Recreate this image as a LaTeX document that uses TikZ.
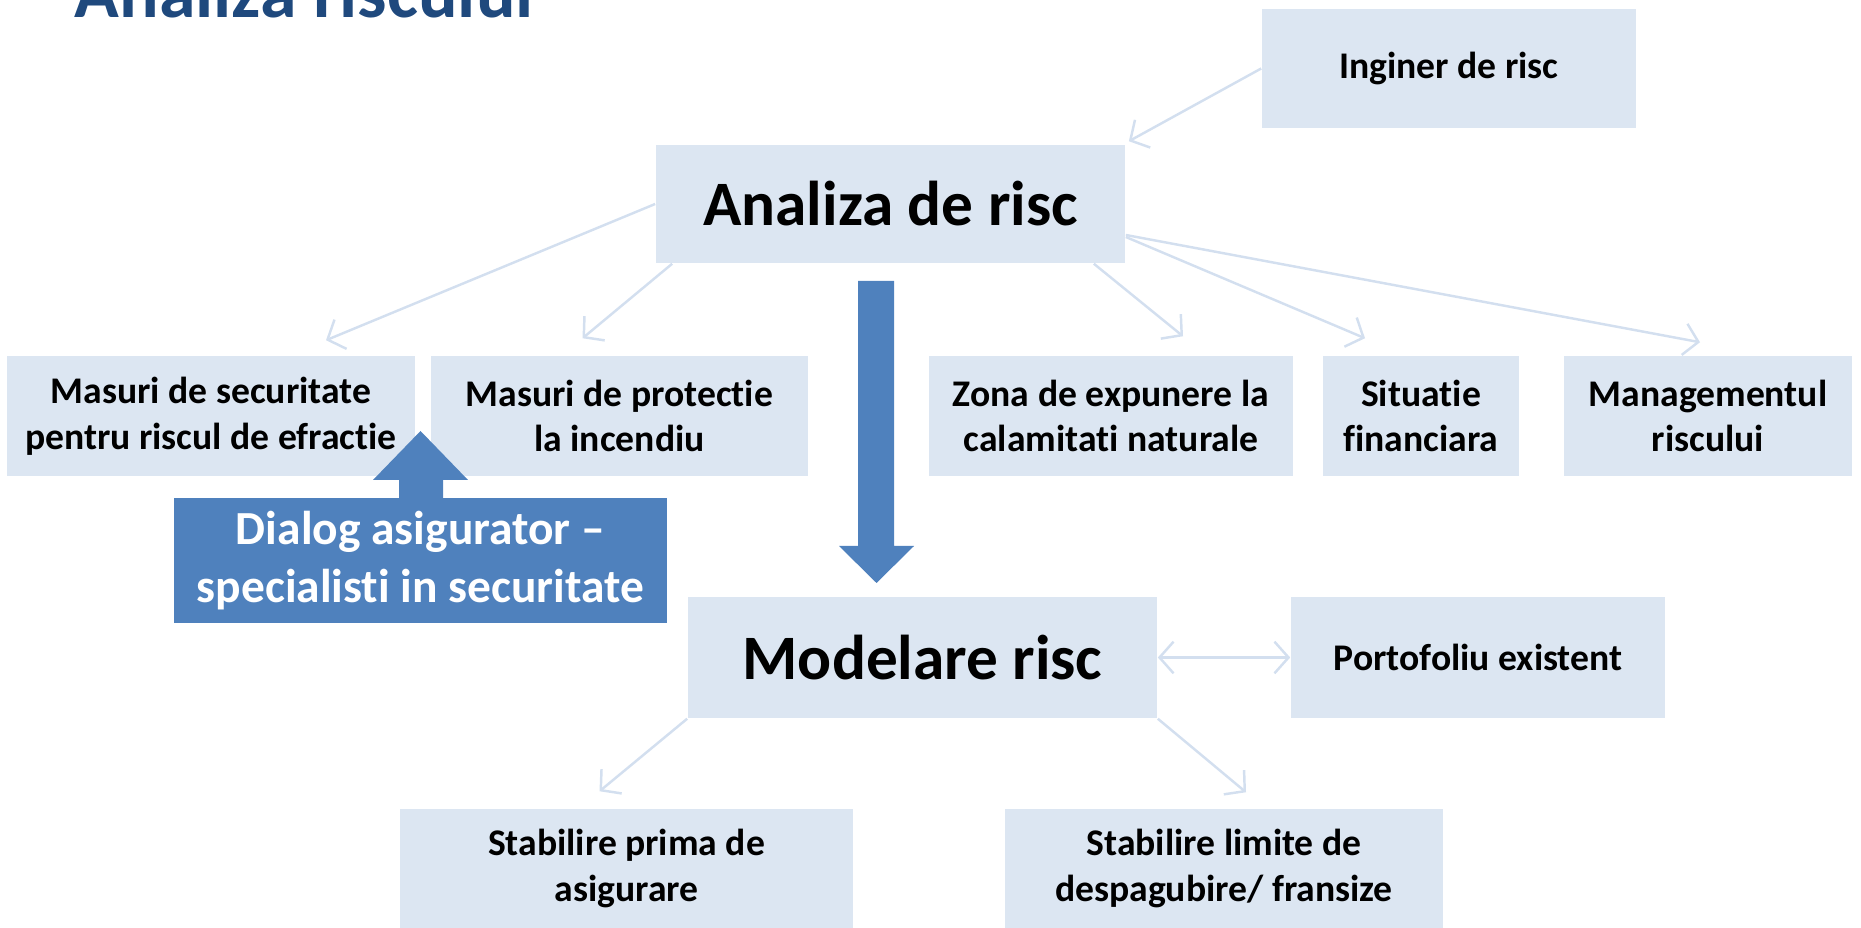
\documentclass[tikz,border=0pt]{standalone}
\usepackage{fontspec}
\setmainfont{Carlito}[Ligatures=NoCommon]
\usetikzlibrary{arrows.meta}
\definecolor{boxfill}{HTML}{DCE6F2}
\definecolor{linecol}{HTML}{D3DFEF}
\definecolor{accent}{HTML}{4F81BD}
\definecolor{titlecol}{HTML}{1F497D}
\tikzset{
	box/.style={fill=boxfill,inner sep=0pt,align=center,minimum width=#1cm,minimum height=1.19cm,font=\bfseries\fontsize{10.7}{13}\selectfont},
	bigbox/.style={box=#1,font=\bfseries\fontsize{18}{22}\selectfont},
	conn/.style={draw=linecol,line width=0.7pt,-{Straight Barb[length=4pt,width=9pt]}},
	conn2/.style={conn,{Straight Barb[length=4pt,width=9pt]}-{Straight Barb[length=4pt,width=9pt]}},
}
\begin{document}
\begin{tikzpicture}[x=0.01cm,y=-0.01cm]
		\useasboundingbox (0,0) rectangle (1861,928);
		\clip (0,0) rectangle (1861,928);
		\node[anchor=base west,text=titlecol,inner sep=0pt,font=\bfseries\fontsize{21}{25}\selectfont] (titlu) at (74,18) {Analiza riscului};
		\node[box=3.74] (ing) at (1449,68.5) {Inginer de risc};
		\node[bigbox=4.69,minimum height=1.18cm] (ana) at (890.5,204) {Analiza de risc};
		\node[box=4.08,minimum height=1.2cm] (sec) at (211,416) {Masuri de securitate\\pentru riscul de efractie};
		\node[box=3.77,minimum height=1.2cm] (inc) at (619.5,416) {Masuri de protectie\\la incendiu};
		\node[box=3.64,minimum height=1.2cm] (zona) at (1111,416) {Zona de expunere la\\calamitati naturale};
		\node[box=1.96,minimum height=1.2cm] (fin) at (1421,416) {Situatie\\financiara};
		\node[box=2.88,minimum height=1.2cm] (man) at (1708,416) {Managementul\\riscului};
		\node[fill=accent,text=white,inner sep=0pt,align=center,minimum width=4.93cm,minimum height=1.25cm,font=\bfseries\fontsize{13.5}{16.3}\selectfont] (dialog) at (420.5,560.5) {Dialog asigurator --\\specialisti in securitate};
		\node[bigbox=4.69,minimum height=1.21cm] (mod) at (922.5,657.5) {Modelare risc};
		\node[box=3.74,minimum height=1.21cm] (port) at (1478,657.5) {Portofoliu existent};
		\node[box=4.53] (prima) at (626.5,868.5) {Stabilire prima de\\asigurare};
		\node[box=4.38] (lim) at (1224,868.5) {Stabilire limite de\\despagubire/ fransize};
		\fill[accent] (858,281)--(894,281)--(894,546)--(914,546)--(876.5,583)--(839,546)--(858,546)--cycle;
		\fill[accent] (399,498)--(399,480)--(373,480)--(420.5,431)--(468,480)--(443,480)--(443,498)--cycle;
		\draw[conn] (ing.west) -- ([shift={(3,-3)}]ana.north east);
		\draw[conn] (ana.west) -- ([shift={(115,-15)}]sec.north);
		\draw[conn] ([shift={(17,0)}]ana.south west) -- ([shift={(-37,-17)}]inc.north);
		\draw[conn] ([shift={(-32,0)}]ana.south east) -- ([shift={(72,-19)}]zona.north);
		\draw[conn] ([shift={(0,33)}]ana.east) -- ([shift={(-56,-17)}]fin.north);
		\draw[conn] ([shift={(0,31)}]ana.east) -- ([shift={(-8,-13)}]man.north);
		\draw[conn2] (mod.east) -- (port.west);
		\draw[conn] (mod.south west) -- ([shift={(-27,-17)}]prima.north);
		\draw[conn] (mod.south east) -- ([shift={(22,-16)}]lim.north);
	\end{tikzpicture}
\end{document}
